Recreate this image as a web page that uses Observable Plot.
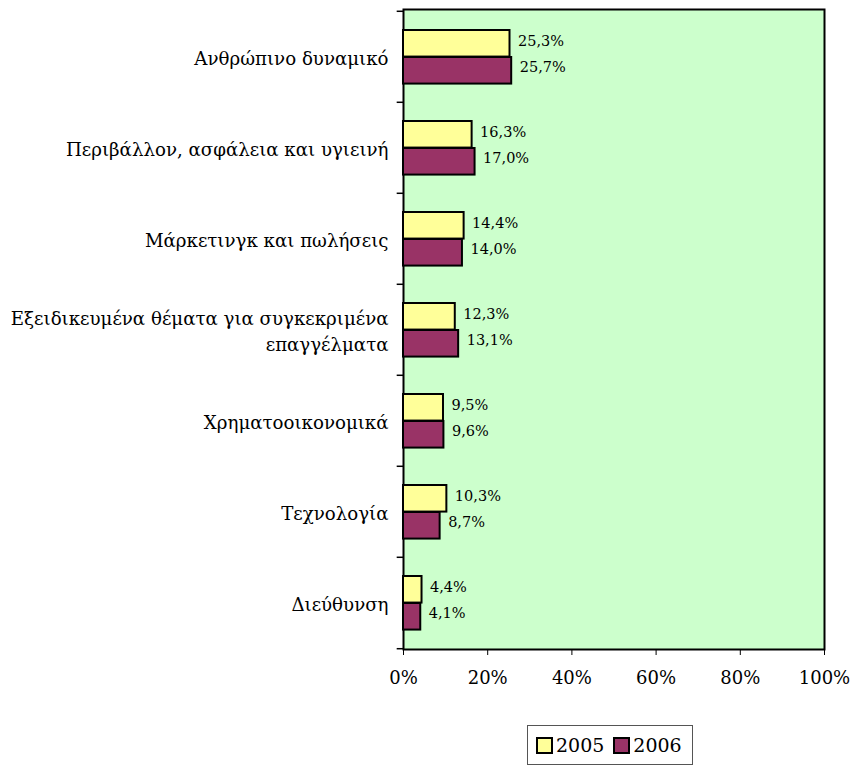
<!DOCTYPE html>
<html>
<head>
<meta charset="utf-8">
<script src="https://cdn.jsdelivr.net/npm/d3@7"></script>
<script src="https://cdn.jsdelivr.net/npm/@observablehq/plot@0.6"></script>
<style>
body { margin: 0; background: #fff; font-family: "DejaVu Serif", serif; }
svg text { font-family: "DejaVu Serif", serif !important; }
#legend { margin-left: 527px; margin-top: 10px; width: 166px; height: 40px; border: 1px solid #555; box-sizing: border-box; display: flex; align-items: center; padding-left: 8px; font-size: 19px; color: #000; }
#legend .sw { width: 13px; height: 13px; border: 2px solid #000; display: inline-block; margin-right: 3px; }
#legend .it { display: flex; align-items: center; margin-right: 9px; }
</style>
</head>
<body>
<div id="chart"></div>
<div id="legend"></div>
<script>
const categories = [
  "Ανθρώπινο δυναμικό",
  "Περιβάλλον, ασφάλεια και υγιεινή",
  "Μάρκετινγκ και πωλήσεις",
  "Εξειδικευμένα θέματα για συγκεκριμένα\nεπαγγέλματα",
  "Χρηματοοικονομικά",
  "Τεχνολογία",
  "Διεύθυνση"
];
const values2005 = [25.3, 16.3, 14.4, 12.3, 9.5, 10.3, 4.4];
const values2006 = [25.7, 17.0, 14.0, 13.1, 9.6, 8.7, 4.1];
const series = ["2005", "2006"];
const colors = ["#FFFF99", "#993366"];
const xTicks = [0, 20, 40, 60, 80, 100];

const d05 = categories.map((c, i) => ({cat: c, v: values2005[i]}));
const d06 = categories.map((c, i) => ({cat: c, v: values2006[i]}));
const fmt = v => v.toFixed(1).replace(".", ",") + "%";
const bw = 640 / categories.length;

const plot = Plot.plot({
  width: 855,
  height: 715,
  marginLeft: 403,
  marginRight: 31,
  marginTop: 9,
  marginBottom: 66,
  style: {fontFamily: "'DejaVu Serif', serif", fontSize: "18px", color: "#000", background: "transparent"},
  x: {domain: [0, 100], ticks: xTicks, tickFormat: d => d + "%", label: null},
  y: {domain: categories, padding: 0, label: null},
  marks: [
    Plot.frame({fill: "#CCFFCC", stroke: "#000", strokeWidth: 2}),
    Plot.axisX({ticks: xTicks, tickFormat: d => d + "%", tickSize: 6, tickPadding: 16, fontSize: 18, label: null}),
    Plot.axisY({tickSize: 0, tickPadding: 15, fontSize: 18.2, label: null, lineHeight: 1.38}),
    Plot.ruleY(categories, {y: d => d, x1: -1.5, x2: 0, dy: -bw / 2, stroke: "#000", strokeWidth: 1.5}),
    Plot.ruleY([categories[categories.length - 1]], {y: d => d, x1: -1.5, x2: 0, dy: bw / 2, stroke: "#000", strokeWidth: 1.5}),
    Plot.barX(d05, {y: "cat", x: "v", fill: colors[0], stroke: "#000", strokeWidth: 2, insetTop: 19, insetBottom: bw - 46}),
    Plot.barX(d06, {y: "cat", x: "v", fill: colors[1], stroke: "#000", strokeWidth: 2, insetTop: 46, insetBottom: bw - 73}),
    Plot.text(d05, {y: "cat", x: "v", text: d => fmt(d.v), dx: 8, dy: -16, textAnchor: "start", fontSize: 14.5}),
    Plot.text(d06, {y: "cat", x: "v", text: d => fmt(d.v), dx: 8, dy: 10, textAnchor: "start", fontSize: 14.5})
  ]
});
document.getElementById("chart").appendChild(plot);

const lg = document.getElementById("legend");
series.forEach((s, i) => {
  const it = document.createElement("span");
  it.className = "it";
  it.innerHTML = `<span class="sw" style="background:${colors[i]}"></span>${s}`;
  lg.appendChild(it);
});
</script>
</body>
</html>
